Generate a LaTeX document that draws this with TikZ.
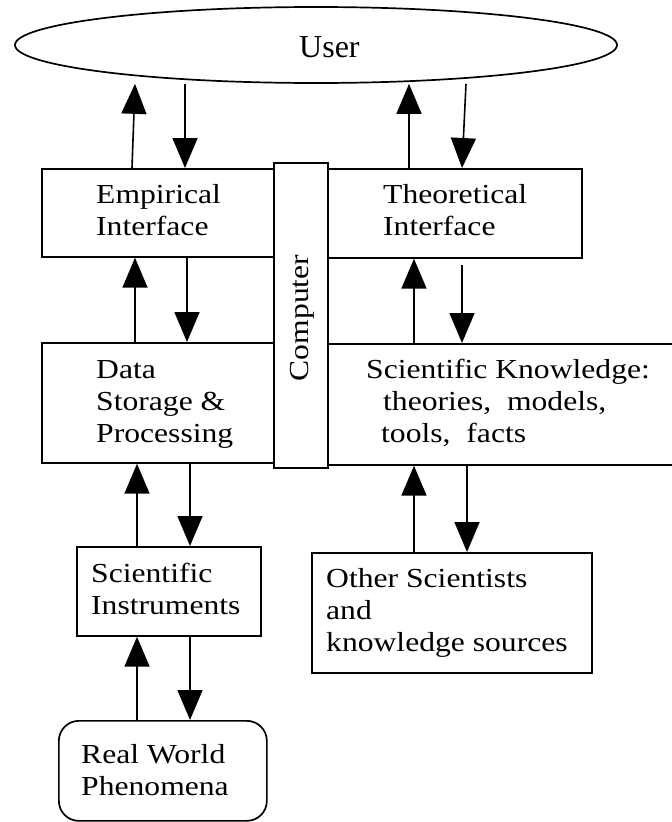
\documentclass[tikz,border=0pt]{standalone}
\usepackage{fontspec}
\setmainfont{Liberation Serif}[FakeStretch=1.15]
\newfontfamily\userfont{Liberation Serif}
\usetikzlibrary{arrows.meta,shapes.geometric,calc}
\newcommand\mylines[1]{\begin{tabular}[t]{@{}l@{}}#1\end{tabular}}
\tikzset{
  box/.style={draw, line width=1.7pt, inner sep=0pt, anchor=north west, fill=white},
  txt/.style={inner sep=0pt, anchor=base west, font=\fontsize{27.5}{32}\selectfont},
  arr/.style={line width=1.6pt, -{Triangle[width=25pt,length=30pt]}}
}
\begin{document}
\begin{tikzpicture}[x=1pt,y=-1pt]
\useasboundingbox (0,0) rectangle (672,822);
% shapes
\node[draw, line width=1.7pt, ellipse, minimum width=602pt, minimum height=76pt, inner sep=0pt] (user) at (316,45) {};
\node[box, minimum width=232pt, minimum height=88pt] (emp) at (41,168) {};
\node[box, minimum width=254pt, minimum height=89pt] (theo) at (327,168) {};
\node[box, minimum width=232pt, minimum height=120pt] (data) at (41,342) {};
\node[box, minimum width=363pt, minimum height=121pt] (sci) at (327,343) {};
\node[box, minimum width=54pt, minimum height=305pt] (comp) at (273,162) {};
\node[box, minimum width=184pt, minimum height=89pt] (instr) at (76,546) {};
\node[box, minimum width=280pt, minimum height=120pt] (other) at (311,552) {};
\node[box, rounded corners=20pt, minimum width=208pt, minimum height=100pt] (real) at (58,720) {};
% texts
\node[txt, font=\userfont\fontsize{32}{36}\selectfont] (userT) at (299,57) {User};
\node[txt] (empT) at (96,203) {\mylines{Empirical\\Interface}};
\node[txt] (theoT) at (383,203) {\mylines{Theoretical\\Interface}};
\node[txt] (dataT) at (96,378) {\mylines{Data\\Storage \&\\Processing}};
\node[txt] (sciT) at (366,378) {\mylines{Scientific Knowledge:\\\hspace*{17pt}theories,~ models,\\\hspace*{15pt}tools,~ facts}};
\node[txt] (instrT) at (91,582) {\mylines{Scientific\\Instruments}};
\node[txt] (otherT) at (326,587) {\mylines{Other Scientists\\and\\knowledge sources}};
\node[txt] (realT) at (81,763) {\mylines{Real World\\Phenomena}};
\node[inner sep=0pt, rotate=90, font=\fontsize{27.5}{32}\selectfont] (compT) at (302,318) {Computer};
% arrows
\draw[arr] (132,0 |- emp.north) -- (135,0 |- user.south);
\draw[arr] (185,0 |- user.south) -- (185,0 |- emp.north);
\draw[arr] (409,0 |- theo.north) -- (409,0 |- user.south);
\draw[arr] (466,0 |- user.south) -- (462,0 |- theo.north);
\draw[arr] (135,0 |- data.north) -- (135,0 |- emp.south);
\draw[arr] (187,0 |- emp.south) -- (187,0 |- data.north);
\draw[arr] (414,0 |- sci.north) -- (414,0 |- theo.south);
\draw[arr] ($(462,0 |- theo.south)+(0,6)$) -- (462,0 |- sci.north);
\draw[arr] (137,0 |- instr.north) -- (137,0 |- data.south);
\draw[arr] (190,0 |- data.south) -- (190,0 |- instr.north);
\draw[arr] (414,0 |- other.north) -- (414,0 |- sci.south);
\draw[arr] (467,0 |- sci.south) -- (467,0 |- other.north);
\draw[arr] (137,0 |- real.north) -- (137,0 |- instr.south);
\draw[arr] (190,0 |- instr.south) -- (190,0 |- real.north);
\end{tikzpicture}
\end{document}
